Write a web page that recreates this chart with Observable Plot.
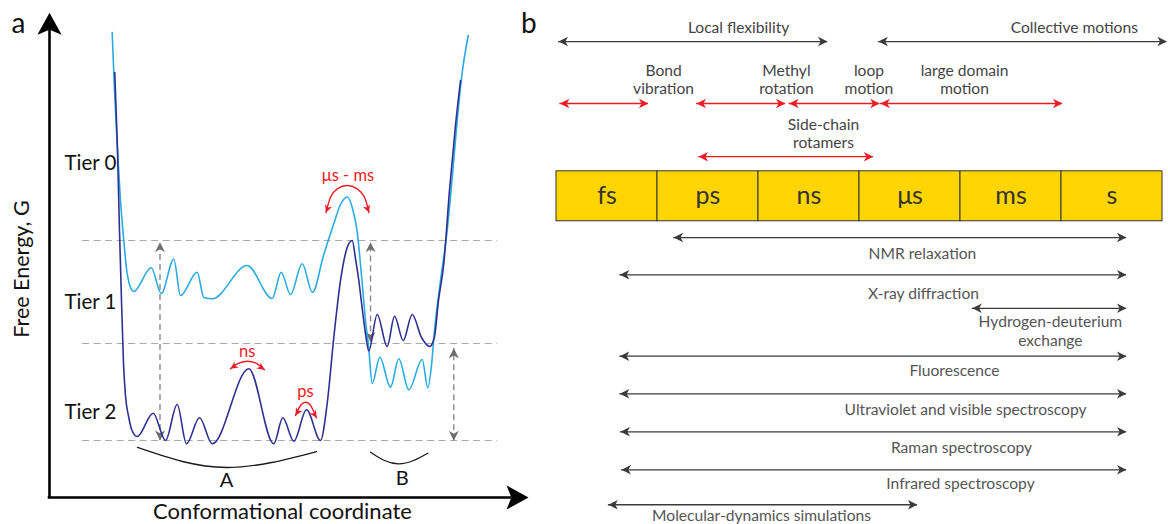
<!DOCTYPE html>
<html>
<head>
<meta charset="utf-8">
<script src="https://cdn.jsdelivr.net/npm/d3@7"></script>
<script src="https://cdn.jsdelivr.net/npm/@observablehq/plot@0.6"></script>
<style>
  html, body { margin: 0; padding: 0; background: #fff; }
  #figure { position: relative; width: 1168px; height: 524px; overflow: hidden; }
  #figure svg { position: absolute; top: 0; overflow: visible; }
</style>
</head>
<body>
<div id="figure"></div>
<script>
// ---------- Panel a: free-energy landscape (arbitrary units, 0–100 on both axes) ----------
const tier1X = [13.06, 13.54, 14.17, 14.79, 15.48, 16.04, 16.67, 17.56, 21.19, 23.27, 25.90, 27.29, 30.77, 32.15, 33.90,
  41.19, 46.40, 48.27, 50.21, 52.65, 54.79, 57.08, 59.17, 60.63, 62.08, 63.23, 64.06, 65.10, 65.83, 66.46, 67.23,
  68.81, 71.04, 72.77, 74.85, 77.65, 78.81, 79.58, 80.21, 81.46, 82.85, 83.85, 84.94, 86.04, 87.23];
const tier1G = [96.88, 84.79, 72.29, 61.88, 53.54, 47.71, 44.38, 42.92, 47.85, 42.50, 49.65, 42.08, 46.94, 41.67, 41.40,
  48.33, 41.46, 46.94, 42.29, 48.69, 42.71, 50.42, 56.88, 61.04, 62.60, 59.79, 55.63, 45.21, 36.88, 31.67, 23.75,
  29.23, 22.98, 28.90, 22.44, 28.75, 22.85, 27.50, 34.79, 45.21, 55.63, 66.04, 78.54, 88.96, 96.25];

const tier2X = [13.60, 14.17, 14.58, 15.00, 15.42, 15.83, 16.52, 17.19, 18.27, 21.60, 24.17, 26.60, 28.54, 31.25, 33.90,
  41.52, 46.73, 48.60, 50.90, 53.54, 56.46, 57.85, 59.23, 60.63, 62.02, 63.06, 63.75, 64.44, 65.15, 65.83, 66.52,
  68.27, 70.35, 71.88, 73.69, 75.56, 77.50, 79.23, 80.21, 81.04, 82.15, 83.33, 84.58, 85.63];
const tier2G = [88.54, 72.29, 55.63, 41.04, 27.92, 21.25, 16.67, 13.96, 12.71, 17.56, 11.88, 19.38, 11.19, 16.60, 11.19,
  26.81, 11.19, 16.60, 11.73, 18.27, 11.88, 19.58, 33.33, 45.21, 52.08, 53.54, 49.79, 45.21, 39.38, 34.17, 30.52,
  38.13, 31.46, 37.77, 32.71, 38.13, 33.33, 31.46, 33.54, 41.04, 48.75, 63.96, 77.50, 86.88];

const tierLevels = [53.54, 32.08, 11.88];
const tierNames = ["Tier 0", "Tier 1", "Tier 2"];
const tierLabelG = [69.67, 40.56, 17.73];

// energy gaps between tiers (coordinate, lower and upper free energy)
const gapX = [23.02, 66.88, 84.23];
const gapLo = [11.88, 32.4, 11.8];
const gapHi = [53.2, 53.2, 31.1];

// transitions marked with timescales
const transitionName = ["μs - ms", "ns", "ps"];
const transitionArcX = [
  [57.6, 58.54, 59.94, 62.02, 64.1, 65.63, 66.56],
  [37.71, 39.10, 41.19, 43.27, 44.79],
  [51.25, 52.29, 53.33, 54.38, 55.63]
];
const transitionArcG = [
  [59.38, 62.56, 64.31, 65.0, 64.31, 62.56, 59.38],
  [26.81, 27.85, 28.40, 27.85, 26.60],
  [17.08, 19.17, 19.85, 19.17, 16.60]
];
const transitionLabelX = [62.19, 41.19, 53.33];
const transitionLabelG = [66.94, 30.29, 21.96];

// substates A and B
const substateName = ["A", "B"];
const substateArcX = [[18.33, 27.71, 36.88, 46.25, 55.63], [66.88, 69.79, 72.77, 75.83, 78.81]];
const substateArcG = [[10.42, 7.50, 6.25, 7.29, 9.58], [9.44, 7.71, 7.02, 7.71, 9.23]];
const substateLabelX = [36.88, 73.48];
const substateLabelG = [3.48, 4.04];

// ---------- Panel b: timescales (log10 of seconds) ----------
const timeUnits = ["fs", "ps", "ns", "μs", "ms", "s"];
const unitStart = [-15, -12, -9, -6, -3, 0];   // each unit spans three decades

const motionName = ["Local flexibility", "Collective motions"];
const motionFrom = [-14.94, -5.44];
const motionTo = [-6.95, 3.13];
const motionLabelAt = [-9.59, 0.38];

const processName = ["Bond\nvibration", "Methyl\nrotation", "loop\nmotion", "large domain\nmotion"];
const processFrom = [-14.90, -10.84, -8.09, -5.38];
const processTo = [-12.27, -8.20, -5.40, 0.03];
const processLabelAt = [-11.82, -8.17, -5.72, -2.88];

const sideChainName = "Side-chain\nrotamers";
const sideChainFrom = -10.78;
const sideChainTo = -5.59;
const sideChainLabelAt = -7.07;

const techniqueName = ["NMR relaxation", "X-ray diffraction", "Hydrogen-deuterium\nexchange", "Fluorescence",
  "Ultraviolet and visible spectroscopy", "Raman spectroscopy", "Infrared spectroscopy", "Molecular-dynamics simulations"];
const techniqueFrom = [-11.52, -13.12, -2.65, -13.12, -13.12, -13.10, -13.07, -13.46];
const techniqueTo = [1.93, 1.93, 1.93, 1.93, 1.93, 1.93, 1.93, -4.28];
const techniqueLabelAt = [-4.13, -4.10, -0.33, -3.18, -2.85, -2.97, -3.00, -8.91];

// vertical layout of panel b, in rows (one row ≈ spacing of the technique arrows)
const ROW = {
  panelLabel: -5.61,
  motionArrow: -5.16, motionLabel: -5.52,
  processArrow: -3.53, processLabel: -4.17,
  sideChainArrow: -2.13, sideChainLabel: -2.74,
  barTop: -1.745, barBottom: -0.43, barLabel: -1.105
};
const techniqueRow = [0, 0.98, 1.86, 3.12, 4.11, 5.11, 6.11, 7.03];
const techniqueLabelRow = [0.416, 1.45, 2.45, 3.49, 4.5, 5.51, 6.45, 7.3];

// ---------- styling ----------
const FONT = "Lato, 'Open Sans', sans-serif";
const RED = "#ed1c24";
const LIGHT = "#29abe2";
const DARK = "#2e3192";
const INK = "#3a3a3a";
const LABEL = 15.6;

// filled, barbed arrowhead pointing up with its tip at the origin; r sets its length
function arrowHead(halfWidth, notch) {
  return {
    draw(context, size) {
      const len = Math.sqrt(size / Math.PI);
      context.moveTo(0, 0);
      context.lineTo(halfWidth * len, len);
      context.lineTo(0, notch * len);
      context.lineTo(-halfWidth * len, len);
      context.closePath();
    }
  };
}
const head = arrowHead(0.5, 0.72);
const axisHead = arrowHead(0.55, 0.78);

// ---------- panel a ----------
const tier1Profile = tier1X.map((x, i) => ({x, g: tier1G[i]}));
const tier2Profile = tier2X.map((x, i) => ({x, g: tier2G[i]}));
const gaps = gapX.map((x, i) => ({x, lo: gapLo[i], hi: gapHi[i]}));
const arcs = transitionName.flatMap((name, k) =>
  transitionArcX[k].map((x, i) => ({name, x, g: transitionArcG[k][i]})));
const arcHeadTurn = [[200, 160], [235, 125], [210, 150]];
const arcHeads = transitionName.flatMap((name, k) => {
  const n = transitionArcX[k].length - 1;
  return [
    {name, x: transitionArcX[k][0], g: transitionArcG[k][0], turn: arcHeadTurn[k][0]},
    {name, x: transitionArcX[k][n], g: transitionArcG[k][n], turn: arcHeadTurn[k][1]}
  ];
});
const brackets = substateName.flatMap((name, k) =>
  substateArcX[k].map((x, i) => ({name, x, g: substateArcG[k][i]})));

const panelA = Plot.plot({
  width: 540, height: 524, margin: 0,
  x: {domain: [0, 100], range: [49, 529], axis: null},
  y: {domain: [0, 100], range: [497, 17], axis: null},
  style: {background: "transparent", overflow: "visible"},
  marks: [
    // tier levels
    Plot.ruleY(tierLevels, {y: d => d, x1: 6.9, x2: 93.3, stroke: "#a9a9a9", strokeWidth: 1.2, strokeDasharray: "7,4.5"}),
    // energy gaps
    Plot.ruleX(gaps, {x: "x", y1: "lo", y2: "hi", stroke: "#8a8a8a", strokeWidth: 1.4, strokeDasharray: "6,4"}),
    Plot.dot(gaps, {x: "x", y: "hi", symbol: head, r: 10, rotate: 0, fill: "#6e6e6e", stroke: "none"}),
    Plot.dot(gaps, {x: "x", y: "lo", symbol: head, r: 10, rotate: 180, fill: "#6e6e6e", stroke: "none"}),
    // landscapes
    Plot.line(tier1Profile, {x: "x", y: "g", curve: "monotone-x", stroke: LIGHT, strokeWidth: 1.6}),
    Plot.line(tier2Profile, {x: "x", y: "g", curve: "monotone-x", stroke: DARK, strokeWidth: 1.6}),
    // transitions
    Plot.line(arcs, {x: "x", y: "g", z: "name", curve: "natural", stroke: RED, strokeWidth: 1.4}),
    Plot.dot(arcHeads, {x: "x", y: "g", symbol: head, r: 7.5, rotate: "turn", fill: RED, stroke: "none"}),
    Plot.text(transitionName, {x: (d, i) => transitionLabelX[i], y: (d, i) => transitionLabelG[i], text: d => d,
      fill: RED, fontSize: 16.5, fontFamily: FONT}),
    // substates
    Plot.line(brackets, {x: "x", y: "g", z: "name", curve: "natural", stroke: "#1a1a1a", strokeWidth: 1.3}),
    Plot.text(substateName, {x: (d, i) => substateLabelX[i], y: (d, i) => substateLabelG[i], text: d => d,
      fill: "#111", fontSize: 20, fontFamily: FONT}),
    // tier labels
    Plot.text(tierNames, {x: 3.13, y: (d, i) => tierLabelG[i], text: d => d, textAnchor: "start",
      fill: "#111", fontSize: 20.5, fontFamily: FONT}),
    // axes with arrowheads
    Plot.ruleX([0], {y1: 0, y2: 97, stroke: "#000", strokeWidth: 2.6, strokeLinecap: "square"}),
    Plot.ruleY([0], {x1: 0, x2: 96, stroke: "#000", strokeWidth: 2.6, strokeLinecap: "square"}),
    Plot.dot([0], {x: 0, y: 101, symbol: axisHead, r: 22, fill: "#000", stroke: "none"}),
    Plot.dot([0], {x: 99.8, y: 0, symbol: axisHead, r: 22, rotate: 90, fill: "#000", stroke: "none"}),
    Plot.text(["Free Energy, G"], {x: -5.79, y: 47.6, text: d => d, rotate: -90, fill: "#111", fontSize: 21.5, fontFamily: FONT}),
    Plot.text(["Conformational coordinate"], {x: 48.54, y: -3.05, text: d => d, fill: "#111", fontSize: 22, fontFamily: FONT}),
    Plot.text(["a"], {x: -6.46, y: 98.54, text: d => d, fill: "#111", fontSize: 28, fontFamily: FONT})
  ]
});
panelA.style.left = "0px";

// ---------- panel b ----------
const units = timeUnits.map((name, i) => ({name, lo: unitStart[i], hi: unitStart[i] + 3}));
const motions = motionName.map((name, i) => ({name, from: motionFrom[i], to: motionTo[i], at: motionLabelAt[i]}));
const processes = processName.map((name, i) => ({name, from: processFrom[i], to: processTo[i], at: processLabelAt[i]}));
const sideChain = [{name: sideChainName, from: sideChainFrom, to: sideChainTo, at: sideChainLabelAt}];
const techniques = techniqueName.map((name, i) => ({
  name, from: techniqueFrom[i], to: techniqueTo[i], at: techniqueLabelAt[i],
  row: techniqueRow[i], labelRow: techniqueLabelRow[i]
}));

function doubleArrow(data, y, color, size) {
  return [
    Plot.ruleY(data, {y, x1: "from", x2: "to", stroke: color, strokeWidth: 1.3}),
    Plot.dot(data, {x: "from", y, symbol: head, r: size, rotate: -90, fill: color, stroke: "none"}),
    Plot.dot(data, {x: "to", y, symbol: head, r: size, rotate: 90, fill: color, stroke: "none"})
  ];
}

const panelB = Plot.plot({
  width: 668, height: 524, margin: 0,
  x: {domain: [-15, 3], range: [56, 662], axis: null},
  y: {domain: [-6.24, 7.55], range: [0, 524], axis: null},
  style: {background: "transparent", overflow: "visible"},
  marks: [
    Plot.text(["b"], {x: -15.82, y: ROW.panelLabel, text: d => d, fill: "#111", fontSize: 28, fontFamily: FONT}),
    // scales of motion
    ...doubleArrow(motions, ROW.motionArrow, INK, 9.5),
    Plot.text(motions, {x: "at", y: ROW.motionLabel, text: "name", fill: "#444", fontSize: LABEL, fontFamily: FONT}),
    ...doubleArrow(processes, ROW.processArrow, RED, 9.5),
    Plot.text(processes, {x: "at", y: ROW.processLabel, text: "name", lineHeight: 1.17, fill: "#444", fontSize: LABEL, fontFamily: FONT}),
    ...doubleArrow(sideChain, ROW.sideChainArrow, RED, 9.5),
    Plot.text(sideChain, {x: "at", y: ROW.sideChainLabel, text: "name", lineHeight: 1.17, fill: "#444", fontSize: LABEL, fontFamily: FONT}),
    // timescale bar
    Plot.rect(units, {x1: "lo", x2: "hi", y1: ROW.barTop, y2: ROW.barBottom, fill: "#ffd500", stroke: "#333", strokeWidth: 1}),
    Plot.text(units, {x: d => d.lo + 1.5, y: ROW.barLabel, text: "name", fill: "#333", fontSize: 25, fontFamily: FONT}),
    // experimental techniques
    ...doubleArrow(techniques, "row", INK, 9.5),
    Plot.text(techniques, {x: "at", y: "labelRow", text: "name", lineHeight: 1.2, fill: "#555", fontSize: LABEL, fontFamily: FONT})
  ]
});
panelB.style.left = "500px";

const figure = document.getElementById("figure");
figure.append(panelA, panelB);
</script>
</body>
</html>
